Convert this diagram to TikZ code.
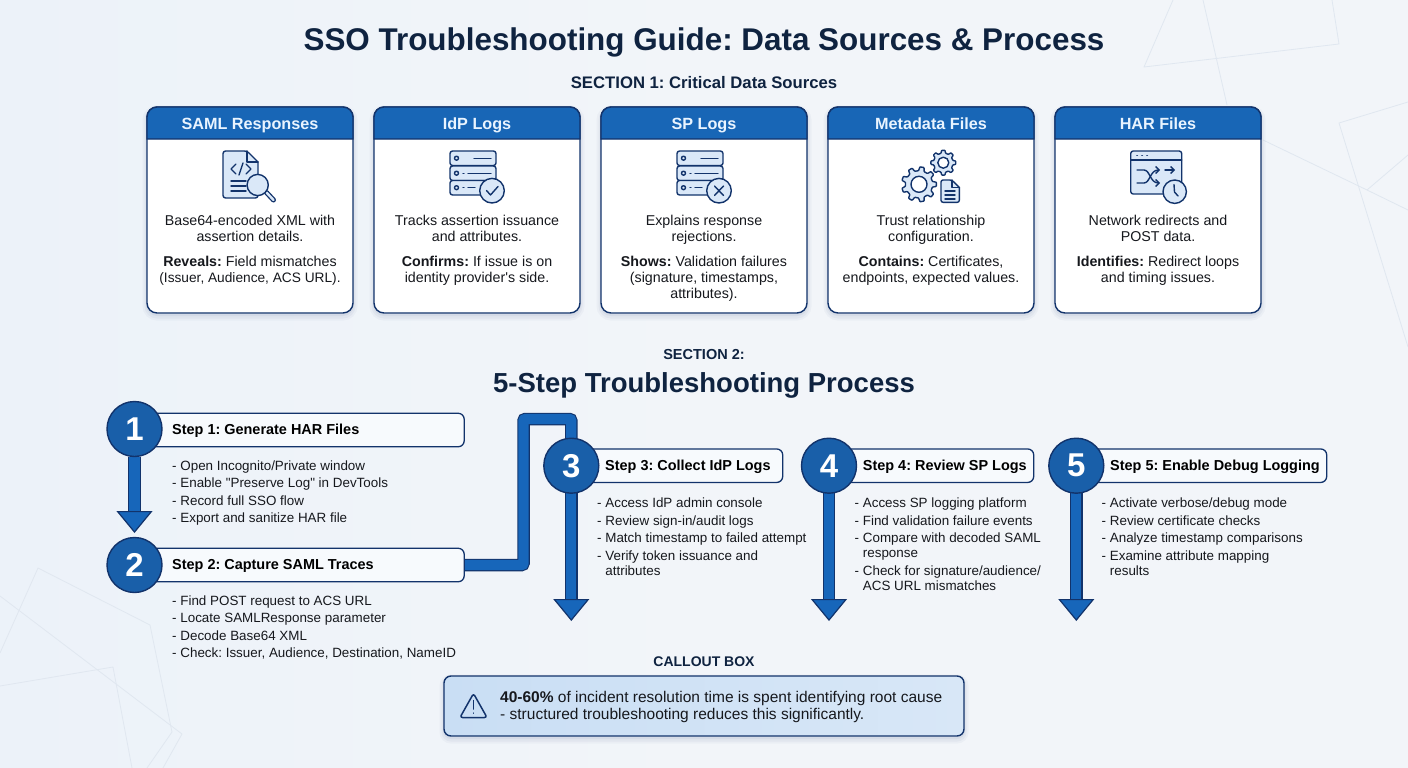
\documentclass[tikz,border=0pt]{standalone}
\usepackage{fontspec}
\setmainfont{Liberation Sans}
\newfontfamily\plainsans{Liberation Sans}
\AtBeginDocument{\frenchspacing}
\usetikzlibrary{arrows.meta,calc}
\definecolor{paperc}{HTML}{F2F5F9}
\definecolor{paperl}{HTML}{ECF2F9}
\definecolor{ghost}{HTML}{E0E7F0}
\definecolor{navy}{HTML}{12336B}
\definecolor{inkc}{HTML}{0F2340}
\definecolor{bodyc}{HTML}{16181D}
\definecolor{blueh}{HTML}{1866B6}
\definecolor{bluec}{HTML}{195FA9}
\definecolor{arrowc}{HTML}{1766BA}
\definecolor{headt}{HTML}{E9F4FF}
\definecolor{boxc}{HTML}{F7FAFD}
\definecolor{icofill}{HTML}{DAE8F8}
\definecolor{calla}{HTML}{C9DEF4}
\definecolor{callb}{HTML}{D8E7F7}
\pgfdeclarelayer{paper}
\pgfdeclarelayer{links}
\pgfsetlayers{paper,links,main}
\tikzset{
  softshadow/.style={
    preaction={draw=navy,draw opacity=.03,line width=9pt,transform canvas={yshift=-3pt}},
    preaction={draw=navy,draw opacity=.04,line width=5pt,transform canvas={yshift=-3pt}},
    preaction={draw=navy,draw opacity=.05,line width=2pt,transform canvas={yshift=-2pt}}},
  ghostline/.style={draw=ghost,line width=.8pt,line join=round},
  cardbox/.style={draw=navy,line width=1.4pt,fill=white,rounded corners=10pt,minimum width=206pt,minimum height=206pt,inner sep=0pt,outer sep=0pt,softshadow},
  cardtitle/.style={text=headt,font=\fontsize{16.2}{18}\selectfont\bfseries,inner sep=0pt,anchor=base},
  cardtext/.style={text=bodyc,font=\fontsize{14.25}{16}\selectfont,align=center,inner sep=0pt,anchor=north},
  headline/.style={text=inkc,font=\bfseries,inner sep=0pt},
  stepbox/.style={draw=navy,line width=1.3pt,fill=boxc,rounded corners=6pt,minimum height=33.5pt,inner sep=0pt,outer sep=0pt},
  stepdisc/.style={circle,draw=navy,line width=1.4pt,fill=bluec,minimum size=55pt,inner sep=0pt,outer sep=0pt,text=white,font=\fontsize{33}{33}\selectfont\bfseries},
  steptitle/.style={text=black,font=\fontsize{14.45}{17}\selectfont\bfseries,inner sep=0pt,anchor=base west},
  steptext/.style={text=bodyc,font=\fontsize{13.4}{17.5}\selectfont,align=left,inner sep=0pt,anchor=north west},
  flowarrow/.style={draw=arrowc,line width=10.3pt,shorten >=#1,
    preaction={draw=navy,line width=12.5pt,-,shorten >=#1+19pt},
    -{Triangle[length=22pt,width=36pt,line width=1.2pt,color=navy,fill=arrowc]}},
  flowarrow/.default=0pt,
  flowbend/.style={draw=arrowc,line width=10.3pt,rounded corners=2pt,preaction={draw=navy,line width=12.5pt}},
  ico/.style={draw=navy,line width=1.4pt,fill=icofill,line cap=round,line join=round},
  icl/.style={draw=navy,line width=1.4pt,line cap=round,line join=round},
}
\newcommand{\wl}{\\[-2.5pt]\phantom{- }}
\newcommand{\sourcecard}[5]{%
  \node[cardbox] (#1) at (#2+103,210) {};
  \draw[draw=navy,fill=blueh,line width=1.4pt,rounded corners=10pt]
    ($(#1.north west)+(0,32)$) -- (#1.north west) -- (#1.north east)
    [sharp corners] -- ($(#1.north east)+(0,32)$) -- cycle;
  \node[cardtitle] (#1t) at (#2+103,129) {#3};
  \node[cardtext] (#1a) at (#2+103,215) {#4};
  \node[cardtext] (#1b) at (#2+103,256) {#5};
}
\newcommand{\servericon}[1]{%
  \begin{scope}[xshift=#1pt]
  \foreach \ya in {151,166,180.5}{
    \draw[ico,rounded corners=2.5pt] (450,\ya) rectangle (496,\ya+14.5);
    \draw[icl] (456.5,\ya+7.2) circle (2pt);}
  \draw[icl] (474,158.2) -- (491,158.2);
  \draw[icl] (463,173.2) -- (464,173.2) (468,173.2) -- (491,173.2);
  \draw[icl] (463,187.7) -- (464,187.7) (468,187.7) -- (475,187.7);
  \draw[ico] (492,190.7) circle (12.3pt);
  \end{scope}}
\newcommand{\gearicon}[5]{% cx cy outer inner teeth
  \pgfmathsetmacro{\gstep}{360/#5}
  \pgfmathsetmacro{\gw}{\gstep*0.17}
  \pgfmathsetmacro{\gv}{\gstep*0.30}
  \pgfmathsetmacro{\gr}{#3*0.78}
  \draw[ico,rounded corners=.6pt] ([shift={(#1,#2)}]-\gv:\gr)
    \foreach \ga in {1,...,#5}{
      -- ([shift={(#1,#2)}]\ga*\gstep-\gstep-\gw:#3)
      -- ([shift={(#1,#2)}]\ga*\gstep-\gstep+\gw:#3)
      -- ([shift={(#1,#2)}]\ga*\gstep-\gstep+\gv:\gr)
      -- ([shift={(#1,#2)}]\ga*\gstep-\gv:\gr)
    } -- cycle;
  \draw[icl,fill=white] (#1,#2) circle (#4pt);}
\begin{document}
\begin{tikzpicture}[x=1pt,y=-1pt]
\useasboundingbox (0,0) rectangle (1408,768);
\begin{pgfonlayer}{paper}
  \shade[left color=paperl,right color=paperc,middle color=paperc] (0,0) rectangle (1408,768);
  \draw[ghostline] (1173,0) -- (1144,67) -- (1339,44) -- (1332,0);
  \draw[ghostline] (1203,0) -- (1227,105);
  \draw[ghostline] (1408,102) -- (1339,123) -- (1408,347);
  \draw[ghostline] (1263,140) -- (1367,190) -- (1408,210);
  \draw[ghostline] (1367,190) -- (1408,155);
  \draw[ghostline] (0,653) -- (38,568) -- (150,625) -- (172,732) -- (147,768);
  \draw[ghostline] (0,596) -- (182,734) -- (163,768);
  \draw[ghostline] (0,686) -- (113,667) -- (132,768);
\end{pgfonlayer}

\node[headline,font=\fontsize{31.4}{36}\selectfont\bfseries] (maintitle) at (704,42) {SSO Troubleshooting Guide: Data Sources \& Process};
\node[headline,font=\fontsize{16.7}{18}\selectfont\bfseries] (sec1) at (704,83) {SECTION 1: Critical Data Sources};
\node[headline,font=\fontsize{14.5}{16}\selectfont\bfseries] (sec2) at (704,355) {SECTION 2:};
\node[headline,font=\fontsize{27.5}{32}\selectfont\bfseries] (sec2t) at (704,385) {5-Step Troubleshooting Process};

\sourcecard{samlc}{147}{SAML Responses}{Base64-encoded XML with\\assertion details.}{\textbf{Reveals:} Field mismatches\\{\fontsize{13.7}{16}\selectfont (Issuer, Audience, ACS URL).}}
\sourcecard{idpc}{374}{IdP Logs}{Tracks assertion issuance\\and attributes.}{\textbf{Confirms:} If issue is on\\identity provider{\plainsans '}s side.}
\sourcecard{spc}{601}{SP Logs}{Explains response\\rejections.}{\textbf{Shows:} Validation failures\\(signature, timestamps,\\attributes).}
\sourcecard{metac}{828}{Metadata Files}{Trust relationship\\configuration.}{\textbf{Contains:} Certificates,\\endpoints, expected values.}
\sourcecard{harc}{1055}{HAR Files}{Network redirects and\\POST data.}{\textbf{Identifies:} Redirect loops\\and timing issues.}

% icon: SAML document
\draw[ico,rounded corners=2.5pt] (223,151) -- (247,151) [sharp corners] -- (258,162) [rounded corners=2.5pt] -- (258,198) -- (223,198) -- cycle;
\draw[icl] (247,151) -- (247,162) -- (258,162);
\draw[icl] (236,164) -- (231,169) -- (236,174) (246,164) -- (251,169) -- (246,174) (243,163) -- (239,175);
\draw[icl] (231,181) -- (246,181) (231,186) -- (246,186) (231,191) -- (246,191);
\draw[icl,line width=5pt] (266.5,192.5) -- (273.5,200);
\draw[icl,draw=icofill,line width=2.4pt] (266.5,192.5) -- (273.5,200);
\draw[ico] (257.7,185) circle (10.6pt);
% icon: IdP server
\servericon{0}
\draw[icl] (486.5,190.5) -- (490.5,195) -- (498,186.5);
% icon: SP server
\servericon{227}
\draw[icl] (714.5,186) -- (723.5,195.5) (723.5,186) -- (714.5,195.5);
% icon: metadata
\gearicon{943.3}{162.7}{12.5}{5.5}{8}
\gearicon{919}{184.3}{17.5}{8}{9}
\draw[ico,rounded corners=2pt] (941,180) -- (952,180) [sharp corners] -- (959.3,187.5) [rounded corners=2pt] -- (959.3,202.3) -- (941,202.3) -- cycle;
\draw[icl] (952,180) -- (952,187.5) -- (959.3,187.5);
\draw[icl] (945,191) -- (955,191) (945,195) -- (955,195) (945,199) -- (955,199);
% icon: HAR browser
\draw[ico,rounded corners=2.5pt] (1130.7,151) rectangle (1181.7,194);
\draw[icl] (1130.7,160) -- (1181.7,160);
\draw[icl,line width=1.8pt] (1137,155.5) -- (1137.1,155.5) (1142,155.5) -- (1142.1,155.5) (1147,155.5) -- (1147.1,155.5);
\draw[icl,-{Straight Barb[length=3.5pt,width=7pt]}] (1137,170) -- (1144,170) .. controls (1150,170) and (1150,183) .. (1160,183);
\draw[icl,-{Straight Barb[length=3.5pt,width=7pt]}] (1137,183) -- (1144,183) .. controls (1150,183) and (1150,170) .. (1160,170);
\draw[icl,-{Straight Barb[length=3.5pt,width=7pt]}] (1165,170) -- (1175,170);
\draw[ico] (1174.7,191.7) circle (11.7pt);
\draw[icl] (1174,184.5) -- (1174.5,192) -- (1178,196);

% process
\node[stepbox,minimum width=330pt] (box1) at (299.2,430) {};
\node[stepbox,minimum width=330pt] (box2) at (299.2,565) {};
\node[stepbox,minimum width=212pt] (box3) at (676.7,465.7) {};
\node[stepbox,minimum width=205pt] (box4) at (931.2,465.7) {};
\node[stepbox,minimum width=250pt] (box5) at (1201.7,465.7) {};
\node[stepdisc] (c1) at (134.5,429) {1};
\node[stepdisc] (c2) at (134.5,565) {2};
\node[stepdisc] (c3) at (571.3,465.7) {3};
\node[stepdisc] (c4) at (829,465.7) {4};
\node[stepdisc] (c5) at (1076.3,465.7) {5};
\node[steptitle] (t1) at (172,434.7) {Step 1: Generate HAR Files};
\node[steptitle] (t2) at (172,569.7) {Step 2: Capture SAML Traces};
\node[steptitle] (t3) at (605,470.7) {Step 3: Collect IdP Logs};
\node[steptitle] (t4) at (862.7,470.7) {Step 4: Review SP Logs};
\node[steptitle] (t5) at (1110,470.7) {Step 5: Enable Debug Logging};
\node[steptext] (l1) at (172,460.5) {- Open Incognito/Private window\\- Enable {\plainsans "Preserve Log"} in DevTools\\- Record full SSO flow\\- Export and sanitize HAR file};
\node[steptext] (l2) at (172,595.5) {- Find POST request to ACS URL\\- Locate SAMLResponse parameter\\- Decode Base64 XML\\- Check: Issuer, Audience, Destination, NameID};
\node[steptext] (l3) at (597,498) {- Access IdP admin console\\- Review sign-in/audit logs\\- Match timestamp to failed attempt\\- Verify token issuance and\wl attributes};
\node[steptext] (l4) at (854.5,498) {- Access SP logging platform\\- Find validation failure events\\- Compare with decoded SAML\wl response\\- Check for signature/audience/\wl ACS URL mismatches};
\node[steptext] (l5) at (1101.5,498) {- Activate verbose/debug mode\\- Review certificate checks\\- Analyze timestamp comparisons\\- Examine attribute mapping\wl results};

\coordinate (e3) at (571.3,621);
\coordinate (e4) at (829,621);
\coordinate (e5) at (1076.3,621);
\coordinate (bend) at (523.5,419);
\begin{pgfonlayer}{links}
  \draw[flowarrow=4.5pt] (c1) -- (c2);
  \draw[flowbend] (box2.east) -| (bend) -| (c3.north);
  \draw[flowarrow] (c3) -- (e3);
  \draw[flowarrow] (c4) -- (e4);
  \draw[flowarrow] (c5) -- (e5);
\end{pgfonlayer}

% callout
\node[headline,font=\fontsize{14}{16}\selectfont\bfseries] (calltitle) at (704,662) {CALLOUT BOX};
\node[draw=navy,line width=1.4pt,left color=calla,right color=callb,rounded corners=7pt,minimum width=520pt,minimum height=60pt,inner sep=0pt,softshadow] (callout) at (704,706) {};
\draw[icl,rounded corners=2.5pt,line width=1.5pt] (473.5,693.5) -- (487,717.5) -- (460,717.5) -- cycle;
\draw[icl,line width=1.5pt] (473.5,700.5) -- (473.5,709) (473.5,713) -- (473.5,713.2);
\node[text=bodyc,font=\fontsize{15.5}{17.3}\selectfont,align=left,inner sep=0pt,anchor=west] (calltext) at (500,707) {\textbf{40-60\%} of incident resolution time is spent identifying root cause\\- structured troubleshooting reduces this significantly.};
\end{tikzpicture}
\end{document}
